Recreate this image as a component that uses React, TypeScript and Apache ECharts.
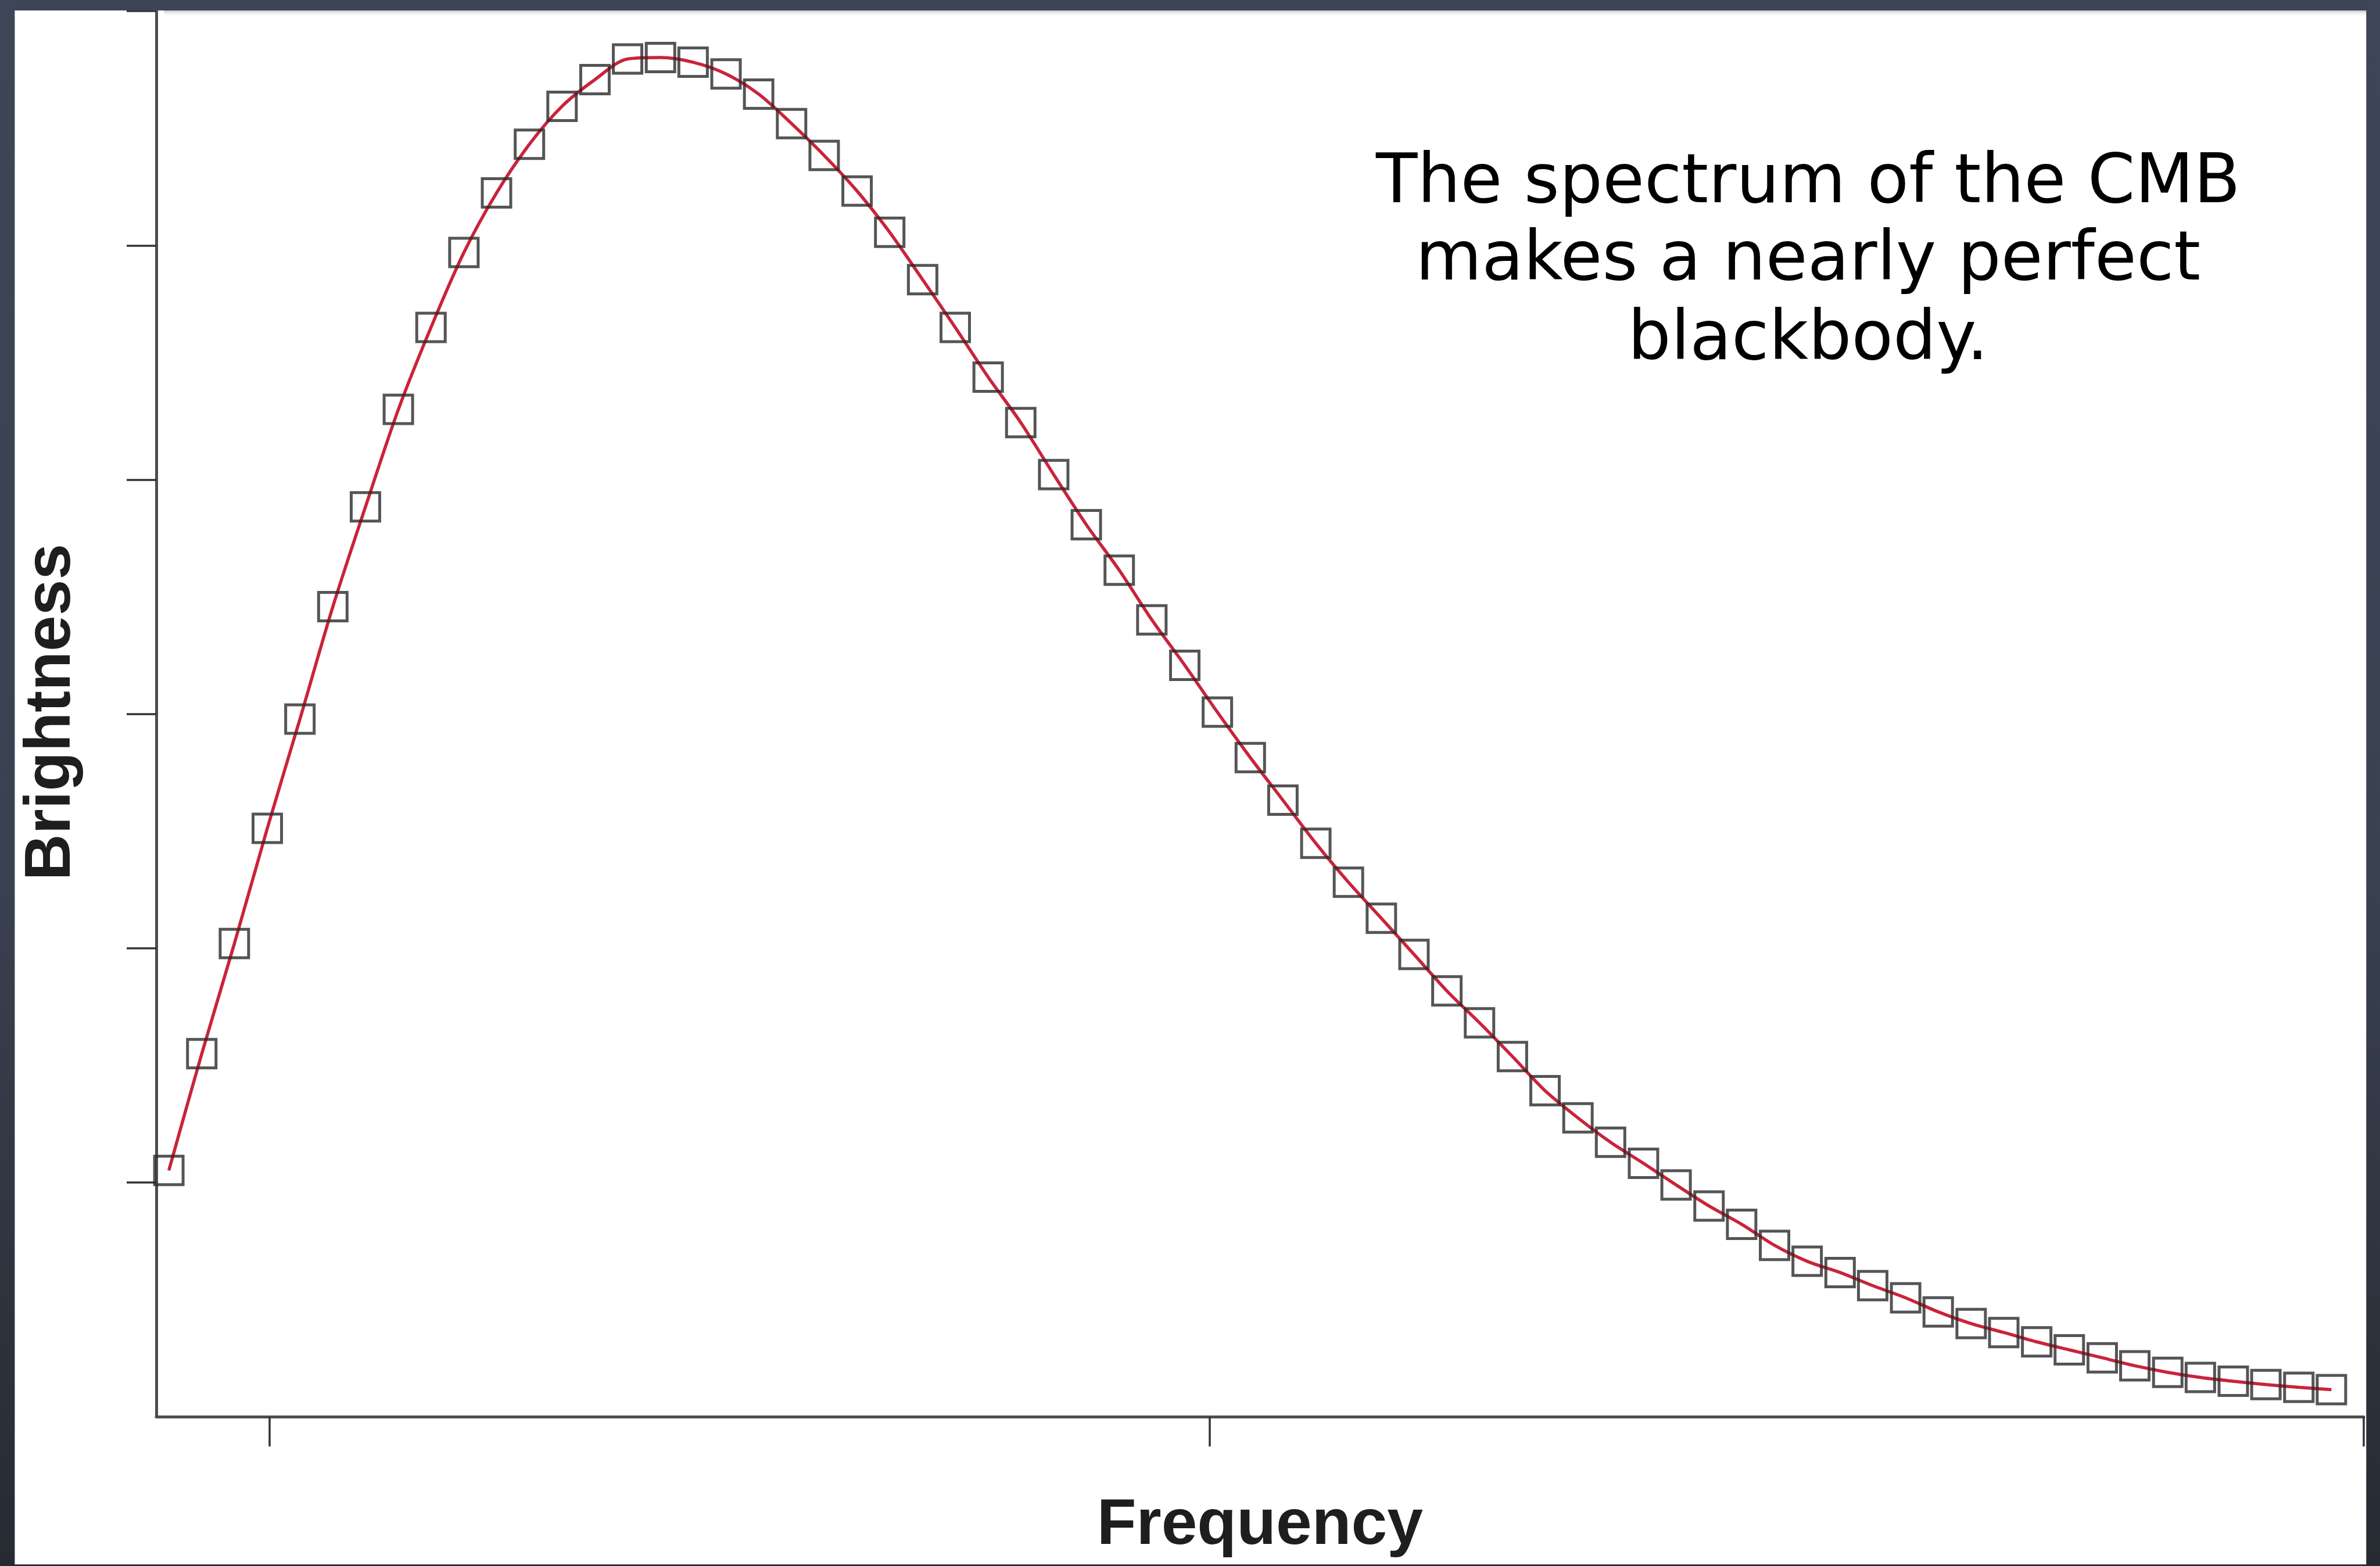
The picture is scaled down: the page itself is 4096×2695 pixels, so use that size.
import React, { useEffect, useRef } from "react";
import * as echarts from "echarts";

// Measured spectrum: frequency (arbitrary units) and brightness (arbitrary units)
const frequency = [
  68.0, 78.5, 88.9, 99.4, 109.8, 120.3, 130.7, 141.2, 151.6, 162.1,
  172.5, 183.0, 193.4, 203.9, 214.3, 224.8, 235.2, 245.7, 256.1, 266.6,
  277.0, 287.5, 297.9, 308.4, 318.8, 329.3, 339.7, 350.2, 360.6, 371.1,
  381.5, 392.0, 402.4, 412.9, 423.3, 433.8, 444.2, 454.7, 465.1, 475.6,
  486.0, 496.5, 506.9, 517.4, 527.8, 538.3, 548.7, 559.2, 569.6, 580.1,
  590.5, 601.0, 611.4, 621.9, 632.3, 642.8, 653.2, 663.7, 674.1, 684.6,
  695.0, 705.5, 715.9, 726.4, 736.8, 747.3, 757.7,
];

const brightness = [
  52.6, 77.5, 101.0, 125.6, 148.9, 172.9, 194.2, 215.0, 232.5, 248.5,
  261.2, 271.6, 279.7, 285.4, 289.8, 290.1, 289.1, 286.6, 282.3, 276.0,
  269.2, 261.6, 252.8, 242.7, 232.5, 221.9, 212.2, 201.1, 190.4, 180.7,
  170.1, 160.4, 150.4, 140.7, 131.6, 122.4, 114.1, 106.4, 98.7, 90.9,
  84.1, 76.9, 69.6, 63.8, 58.6, 54.1, 49.5, 45.0, 41.1, 36.6,
  33.2, 30.8, 28.0, 25.4, 22.4, 19.9, 18.0, 16.0, 14.3, 12.6,
  10.9, 9.5, 8.4, 7.6, 6.9, 6.3, 5.8,
];

const xRange = [64, 768];
const yRange = [0, 300];
const xTicks = [100, 400, 768];
const yTicks = [50, 100, 150, 200, 250, 300];

const xTitle = "Frequency";
const yTitle = "Brightness";
const noteLines = [
  "The spectrum of the CMB",
  "makes a nearly perfect",
  "blackbody.",
];

const W = 4096;
const H = 2695;

export default function App() {
  const ref = useRef<HTMLDivElement>(null);

  useEffect(() => {
    if (!ref.current) return;
    const chart = echarts.init(ref.current, null, { renderer: "svg" });
    const points = frequency.map((f, i) => [f, brightness[i]]);

    const frameFill = {
      type: "linear",
      x: 0,
      y: 0,
      x2: 0,
      y2: 1,
      colorStops: [
        { offset: 0, color: "#3e4557" },
        { offset: 0.55, color: "#3a4151" },
        { offset: 1, color: "#262b32" },
      ],
    };

    const titleFont = "bold 111px 'Liberation Sans', Arial, sans-serif";
    const noteFont = "117px 'DejaVu Sans', sans-serif";
    const noteY = [307.4, 440, 577.3];

    chart.setOption({
      animation: false,
      backgroundColor: "#ffffff",
      grid: { left: 269, right: 28, top: 19.2, bottom: 256.7, containLabel: false },
      xAxis: {
        type: "value",
        min: xRange[0],
        max: xRange[1],
        axisLine: { show: true, lineStyle: { color: "#4d4d4d", width: 5 } },
        axisTick: {
          show: true,
          customValues: xTicks,
          length: 51,
          lineStyle: { color: "#333333", width: 3.5 },
        },
        axisLabel: { show: false },
        splitLine: { show: false },
      },
      yAxis: {
        type: "value",
        min: yRange[0],
        max: yRange[1],
        axisLine: { show: true, lineStyle: { color: "#4d4d4d", width: 5 } },
        axisTick: {
          show: true,
          customValues: yTicks,
          length: 51,
          lineStyle: { color: "#333333", width: 3.5 },
        },
        axisLabel: { show: false },
        splitLine: { show: false },
      },
      series: [
        {
          type: "line",
          data: points,
          symbol: "none",
          smooth: 0.3,
          z: 2,
          silent: true,
          lineStyle: { color: "#c9243a", width: 5.5 },
        },
        {
          type: "scatter",
          data: points,
          symbol: "rect",
          symbolSize: 49,
          z: 3,
          silent: true,
          itemStyle: {
            color: "rgba(0,0,0,0)",
            borderColor: "#2a2a2a",
            borderWidth: 5,
          },
        },
      ],
      graphic: {
        elements: [
          // faint shading under the upper frame edge
          {
            type: "rect",
            z: 90,
            silent: true,
            shape: { x: 282, y: 17.9, width: 3790, height: 11 },
            style: {
              fill: {
                type: "linear",
                x: 0,
                y: 0,
                x2: 0,
                y2: 1,
                colorStops: [
                  { offset: 0, color: "rgba(190,190,190,0.9)" },
                  { offset: 1, color: "rgba(255,255,255,0)" },
                ],
              },
            },
          },
          // slide frame around the plot
          { type: "rect", z: 100, silent: true, shape: { x: 0, y: 0, width: W, height: 17.9 }, style: { fill: "#3d4455" } },
          { type: "rect", z: 100, silent: true, shape: { x: 0, y: 0, width: 25.4, height: H }, style: { fill: frameFill } },
          { type: "rect", z: 100, silent: true, shape: { x: 4072.3, y: 0, width: W - 4072.3, height: H }, style: { fill: frameFill } },
          { type: "rect", z: 100, silent: true, shape: { x: 0, y: 2692.3, width: W, height: H - 2692.3 }, style: { fill: "#262b32" } },
          // axis titles
          {
            type: "text",
            z: 50,
            silent: true,
            x: 2168.3,
            y: 2619,
            style: {
              text: xTitle,
              font: titleFont,
              fill: "#1e1e1e",
              align: "center",
              verticalAlign: "middle",
            },
          },
          {
            type: "text",
            z: 50,
            silent: true,
            x: 81.9,
            y: 1225.7,
            rotation: Math.PI / 2,
            style: {
              text: yTitle,
              font: titleFont,
              fill: "#1e1e1e",
              align: "center",
              verticalAlign: "middle",
            },
          },
          // annotation
          ...noteLines.map((line, i) => ({
            type: "text",
            z: 50,
            silent: true,
            x: 3111.8,
            y: noteY[i],
            style: {
              text: line,
              font: noteFont,
              fill: "#000000",
              align: "center",
              verticalAlign: "middle",
            },
          })),
        ],
      },
    });

    return () => chart.dispose();
  }, []);

  return (
    <div
      ref={ref}
      style={{ position: "fixed", left: 0, top: 0, width: W, height: H }}
    />
  );
}
